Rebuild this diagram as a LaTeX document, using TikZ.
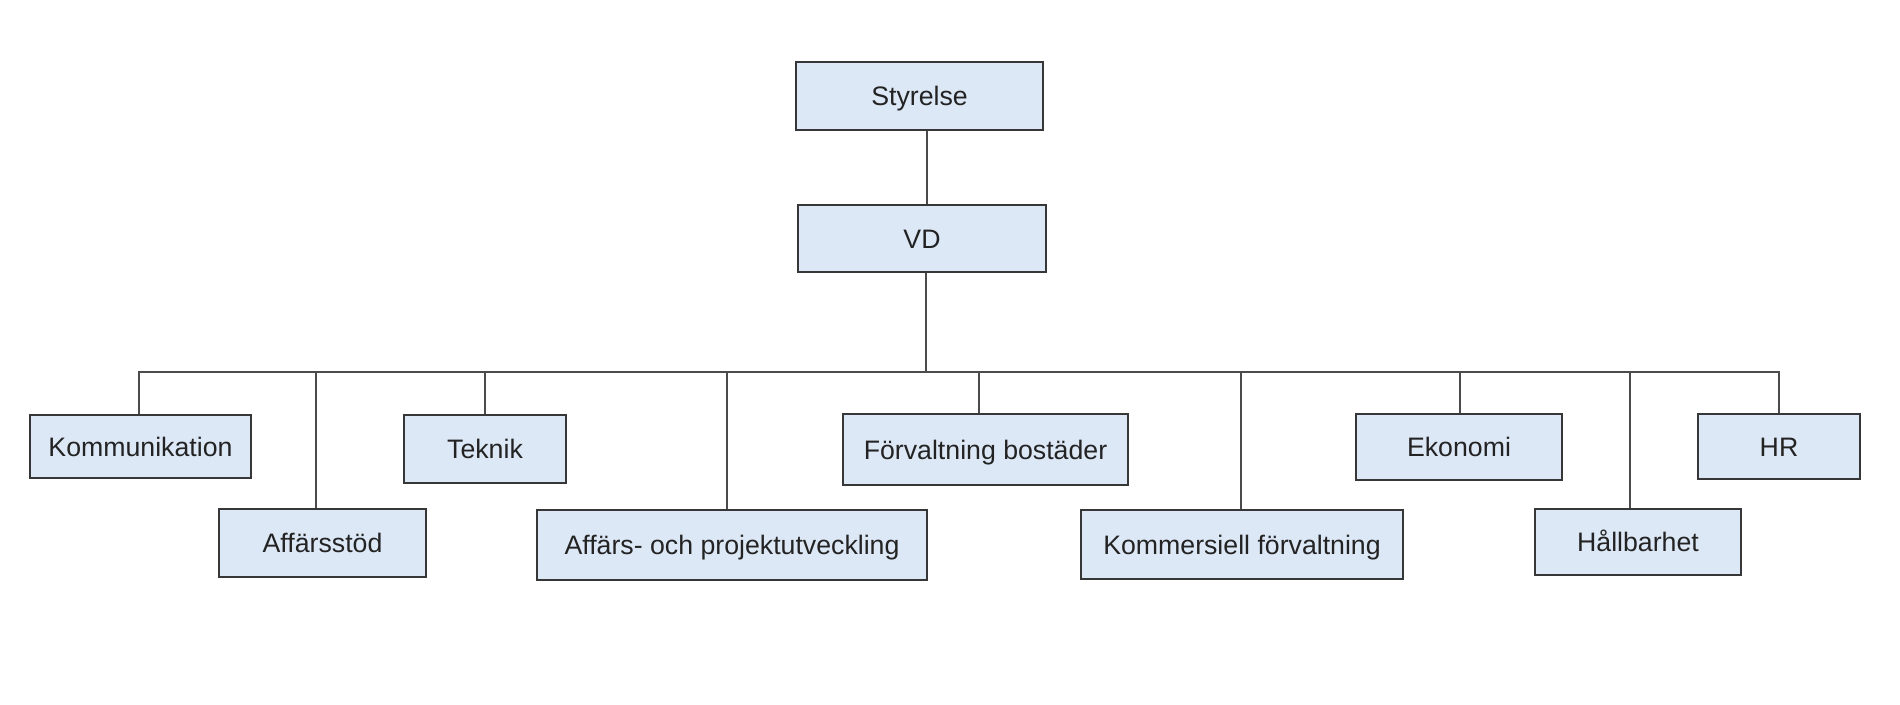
\documentclass[tikz,border=0pt]{standalone}
\usepackage{fontspec}
\setmainfont{Liberation Sans}
\definecolor{boxfill}{RGB}{221,232,247}
\definecolor{boxdraw}{RGB}{55,55,55}
\definecolor{linec}{RGB}{75,75,75}
\definecolor{textc}{RGB}{35,35,35}
\begin{document}
\begin{tikzpicture}[x=1pt,y=-1pt,
  box/.style={draw=boxdraw, fill=boxfill, line width=2.7pt, inner sep=0pt, text=textc,
    text height=19.1pt, text depth=0pt,
    font=\fontsize{26.7}{32}\selectfont},
  conn/.style={draw=linec, line width=2.4pt}]
\useasboundingbox (0,0) rectangle (1900,704);
% boxes
\node[box, minimum width=247, minimum height=68] (sty) at (919.5,96) {Styrelse};
\node[box, minimum width=248, minimum height=67] (vd) at (922,238.5) {VD};
\node[box, minimum width=221, minimum height=63] (kom) at (140.5,446.5) {Kommunikation};
\node[box, minimum width=207, minimum height=68] (affs) at (322.5,543) {Affärsstöd};
\node[box, minimum width=162, minimum height=68] (tek) at (485,449) {Teknik};
\node[box, minimum width=390, minimum height=70] (aop) at (732,545) {Affärs- och projektutveckling};
\node[box, minimum width=285, minimum height=71] (fb) at (985.5,449.5) {Förvaltning bostäder};
\node[box, minimum width=322, minimum height=69] (kf) at (1242,544.5) {Kommersiell förvaltning};
\node[box, minimum width=206, minimum height=66] (eko) at (1459,447) {Ekonomi};
\node[box, minimum width=206, minimum height=66] (hb) at (1638,542) {Hållbarhet};
\node[box, minimum width=162, minimum height=65] (hr) at (1779,446.5) {HR};
% connector anchor points
\path ([xshift=7.5pt]sty.south) coordinate (styB);
\path ([xshift=4pt]vd.south) coordinate (vdB);
\path ([xshift=-1.5pt]kom.north) coordinate (komT);
\path ([xshift=-6.5pt]affs.north) coordinate (affsT);
\path (tek.north) coordinate (tekT);
\path ([xshift=-5pt]aop.north) coordinate (aopT);
\path ([xshift=-6.5pt]fb.north) coordinate (fbT);
\path ([xshift=-1pt]kf.north) coordinate (kfT);
\path ([xshift=1pt]eko.north) coordinate (ekoT);
\path ([xshift=-8pt]hb.north) coordinate (hbT);
\path (hr.north) coordinate (hrT);
\coordinate (bus) at (0,372);
\coordinate (busL) at (komT |- bus);
\coordinate (busR) at (hrT |- bus);
% connectors
\draw[conn] (styB) -- (styB |- vd.north);
\draw[conn] (vdB) -- (vdB |- bus);
\draw[conn, line cap=rect] (busL) -- (busR);
\foreach \c in {komT,affsT,tekT,aopT,fbT,kfT,ekoT,hbT,hrT}
  \draw[conn] (\c) -- (\c |- bus);
\end{tikzpicture}
\end{document}
